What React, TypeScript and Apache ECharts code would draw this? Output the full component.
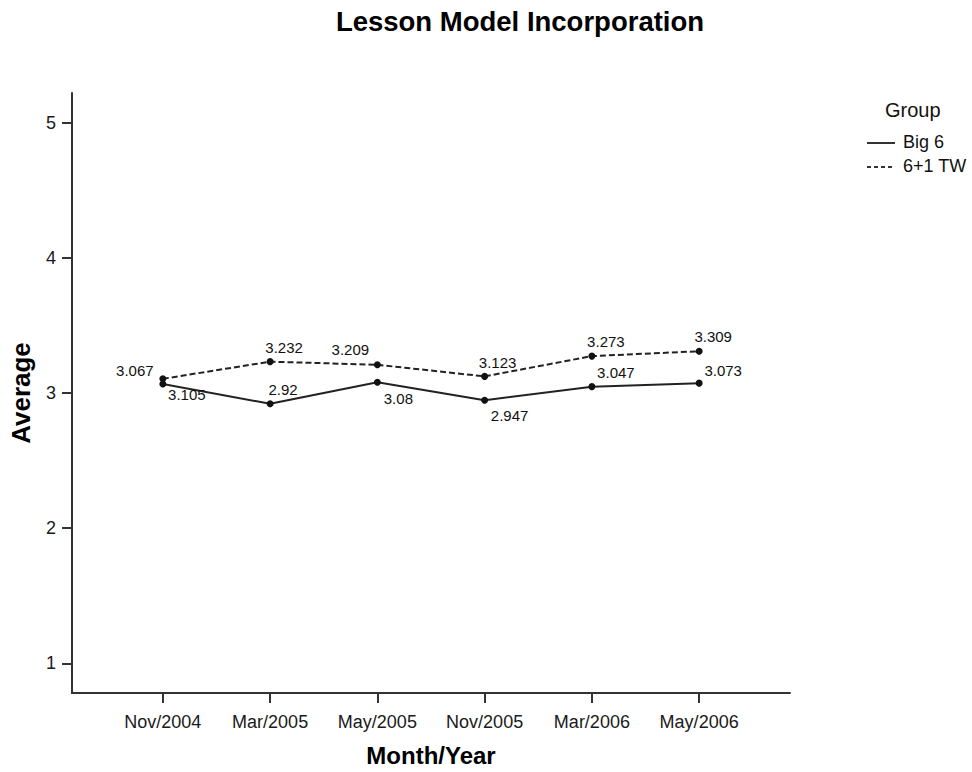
import React, { useEffect, useRef } from "react";
import * as echarts from "echarts";

const categories = ["Nov/2004", "Mar/2005", "May/2005", "Nov/2005", "Mar/2006", "May/2006"];
const big6Values = [3.067, 2.92, 3.08, 2.947, 3.047, 3.073];
const twValues = [3.105, 3.232, 3.209, 3.123, 3.273, 3.309];
const yTicks = [1, 2, 3, 4, 5];
const seriesNames = ["Big 6", "6+1 TW"];

// label offsets (styling only), [dx, dy] from the point
const big6LabelOffsets = [[-28, -13], [13, -14], [21, 16], [25, 15], [24, -14], [24, -13]];
const twLabelOffsets = [[24, 16], [14, -14], [-27, -15], [13, -14], [14, -15], [14, -15]];

const FONT = "'Liberation Sans', Arial, Helvetica, sans-serif";
const INK = "#1a1a1a";

function buildData(values: number[], offsets: number[][]) {
  return values.map((v, i) => ({
    value: [i, v],
    label: { offset: offsets[i] },
  }));
}

export default function App() {
  const ref = useRef<HTMLDivElement>(null);
  useEffect(() => {
    if (!ref.current) return;
    const chart = echarts.init(ref.current, null, { renderer: "svg" });
    const commonLabel = {
      show: true,
      position: "inside",
      align: "center",
      verticalAlign: "middle",
      fontFamily: FONT,
      fontSize: 15,
      color: "#111",
      formatter: (p: any) => String(p.value[1]),
    };
    chart.setOption({
      animation: false,
      backgroundColor: "#ffffff",
      textStyle: { fontFamily: FONT },
      grid: { left: 71, right: 182, top: 93, bottom: 75, containLabel: false },
      xAxis: {
        type: "value",
        min: -0.847,
        max: 5.847,
        splitLine: { show: false },
        axisLine: { show: true, onZero: false, lineStyle: { color: "#333", width: 2 } },
        axisTick: { show: true, length: 10, lineStyle: { color: "#333", width: 2 }, customValues: categories.map((_, i) => i) },
        axisLabel: {
          customValues: categories.map((_, i) => i),
          formatter: (v: number) => categories[Math.round(v)] ?? "",
          fontFamily: FONT,
          fontSize: 18,
          color: INK,
          margin: 20,
        },
        name: "Month/Year",
        nameLocation: "middle",
        nameGap: 50,
        nameTextStyle: { fontFamily: FONT, fontSize: 24, fontWeight: "bold", color: "#000" },
      },
      yAxis: {
        type: "value",
        min: 0.78,
        max: 5.22,
        splitLine: { show: false },
        axisLine: { show: true, onZero: false, lineStyle: { color: "#333", width: 2 } },
        axisTick: { show: true, length: 10, lineStyle: { color: "#333", width: 2 }, customValues: yTicks },
        axisLabel: {
          customValues: yTicks,
          fontFamily: FONT,
          fontSize: 18,
          color: INK,
          margin: 16,
        },
        name: "Average",
        nameLocation: "middle",
        nameGap: 38,
        nameRotate: 90,
        nameTextStyle: { fontFamily: FONT, fontSize: 26, fontWeight: "bold", color: "#000" },
      },
      title: {
        text: "Lesson Model Incorporation",
        left: 515,
        top: 2,
        textAlign: "center",
        textStyle: { fontFamily: FONT, fontSize: 27.5, fontWeight: "bold", color: "#000" },
      },
      series: [
        {
          name: seriesNames[0],
          type: "line",
          data: buildData(big6Values, big6LabelOffsets),
          symbol: "circle",
          symbolSize: 7,
          itemStyle: { color: "#111" },
          lineStyle: { color: "#222", width: 2, type: "solid" },
          label: commonLabel,
        },
        {
          name: seriesNames[1],
          type: "line",
          data: buildData(twValues, twLabelOffsets),
          symbol: "circle",
          symbolSize: 7,
          itemStyle: { color: "#111" },
          lineStyle: { color: "#222", width: 2, type: [6, 3] },
          label: commonLabel,
        },
      ],
      graphic: [
        {
          type: "text",
          left: 885,
          top: 100,
          style: { text: "Group", fontFamily: FONT, fontSize: 20, fill: "#111" },
        },
        {
          type: "line",
          shape: { x1: 867, y1: 143, x2: 895, y2: 143 },
          style: { stroke: "#333", lineWidth: 2 },
        },
        {
          type: "text",
          left: 903,
          top: 133,
          style: { text: seriesNames[0], fontFamily: FONT, fontSize: 18, fill: "#111" },
        },
        {
          type: "line",
          shape: { x1: 867, y1: 167, x2: 895, y2: 167 },
          style: { stroke: "#333", lineWidth: 2, lineDash: [4, 3] },
        },
        {
          type: "text",
          left: 903,
          top: 157,
          style: { text: seriesNames[1], fontFamily: FONT, fontSize: 18, fill: "#111" },
        },
      ],
    });
    return () => chart.dispose();
  }, []);
  return (
    <div
      ref={ref}
      style={{ position: "fixed", left: 0, top: 0, width: 972, height: 772, background: "#fff" }}
    />
  );
}
